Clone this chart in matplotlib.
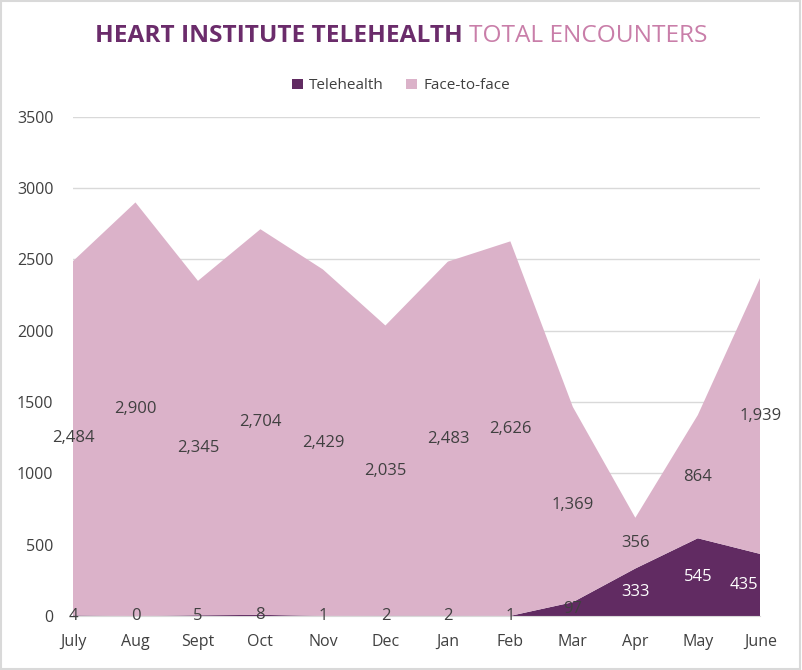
import matplotlib
matplotlib.use('Agg')
import matplotlib.pyplot as plt
import numpy as np

months = ['July', 'Aug', 'Sept', 'Oct', 'Nov', 'Dec', 'Jan', 'Feb', 'Mar', 'Apr', 'May', 'June']
telehealth = [4, 0, 5, 8, 1, 2, 2, 1, 97, 333, 545, 435]
face_to_face = [2484, 2900, 2345, 2704, 2429, 2035, 2483, 2626, 1369, 356, 864, 1939]

dark = '#612b62'
pink = '#dbb2c9'
txt = '#404040'

plt.rcParams['font.family'] = ['Open Sans', 'DejaVu Sans']

fig = plt.figure(figsize=(8.02, 6.70), dpi=100)
ax = fig.add_axes([0.091, 0.0806, 0.857, 0.745])

x = np.arange(len(months))
tele = np.array(telehealth)
f2f = np.array(face_to_face)
ax.stackplot(x, tele, f2f, colors=[dark, pink], labels=['Telehealth', 'Face-to-face'])

# data labels at the middle of each band
for i in range(len(x)):
    col = 'white' if tele[i] > 200 else txt
    if i == len(x) - 1:
        # last label kept inside the plot, like excel does
        ax.text(x[i] - 0.04, tele[i] / 2, f'{tele[i]:,}', ha='right', va='center', fontsize=12,
                color=col, clip_on=False)
    else:
        ax.text(x[i], tele[i] / 2, f'{tele[i]:,}', ha='center', va='center', fontsize=12,
                color=col, clip_on=False)
    ax.text(x[i], tele[i] + f2f[i] / 2, f'{f2f[i]:,}', ha='center', va='center', fontsize=12,
            color=txt, clip_on=False)

ax.set_xlim(0, len(x) - 1)
ax.set_ylim(0, 3500)
ax.set_yticks(range(0, 3501, 500))
ax.set_xticks(x)
ax.set_xticklabels(months)
ax.tick_params(axis='both', length=0, labelsize=11.5, colors=txt)
ax.tick_params(axis='y', pad=14)
ax.tick_params(axis='x', pad=13)
ax.grid(axis='y', color='#d9d9d9', linewidth=1)
ax.set_axisbelow(True)
for s in ['top', 'right', 'left']:
    ax.spines[s].set_visible(False)
ax.spines['bottom'].set_color('#d9d9d9')

leg = fig.legend(loc='center', bbox_to_anchor=(0.5, 0.872), ncol=2, frameon=False,
                 fontsize=11, handlelength=0.7, handleheight=0.7, columnspacing=1.5,
                 handletextpad=0.4, labelcolor=txt)

# two-colour title
fig.canvas.draw()
r = fig.canvas.get_renderer()
t1 = fig.text(0, 0.946, 'HEART INSTITUTE TELEHEALTH ', fontsize=17.6, fontweight='bold', color='#6b2c6b', va='center')
t2 = fig.text(0, 0.946, 'TOTAL ENCOUNTERS', fontsize=17.6, color='#c97ea9', va='center')
w1 = t1.get_window_extent(r).width
w2 = t2.get_window_extent(r).width
W = fig.bbox.width
start = (W - w1 - w2) / 2
t1.set_x(start / W)
t2.set_x((start + w1) / W)

fig.patches.append(plt.Rectangle((0.001, 0.001), 0.997, 0.997, transform=fig.transFigure,
                                 fill=False, edgecolor='#d9d9d9', linewidth=1.5))

fig.savefig('out.png', dpi=100)
